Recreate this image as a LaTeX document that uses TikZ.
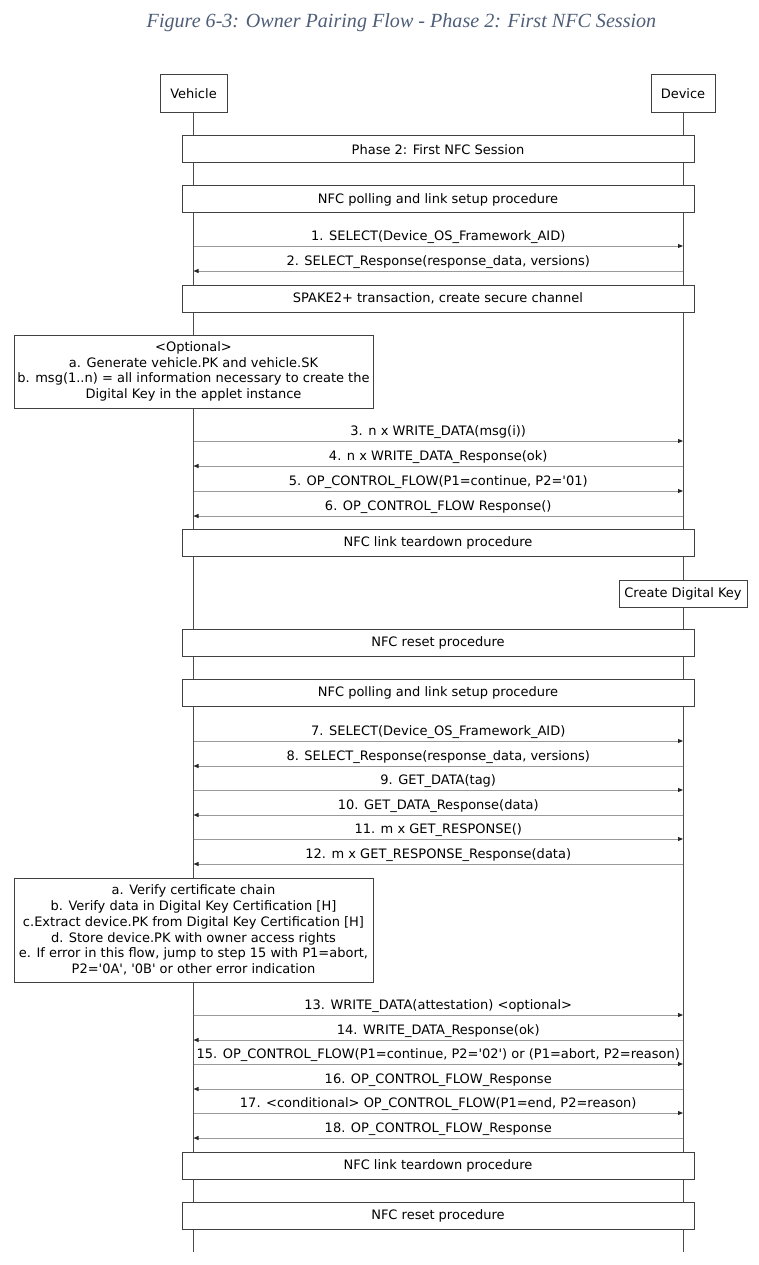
\documentclass[tikz,border=0pt]{standalone}
\usepackage{fontspec}
\setmainfont{DejaVu Sans}[Ligatures=TeXOff]
\newfontfamily\titlefont{Liberation Serif}
\usetikzlibrary{arrows.meta}
\definecolor{titleblue}{HTML}{4F5E78}
\tikzset{
  actor/.style={draw=black!75, line width=1pt, fill=white, inner sep=0pt,
        minimum height=38pt, font=\fontsize{13}{15.5}\selectfont},
  band/.style={draw=black!75, line width=1pt, fill=white, inner sep=0pt,
        minimum width=512pt, minimum height=27pt, font=\fontsize{13}{15.5}\selectfont},
  note/.style={draw=black!75, line width=1pt, fill=white, inner sep=0pt,
        align=center, font=\fontsize{13}{15.8}\selectfont},
  life/.style={draw=black!70, line width=1pt},
  msg/.style={-{Triangle[length=5pt, width=4pt, color=black!85]}, line width=0.9pt, draw=black!40},
  mlbl/.style={midway, above, inner sep=1.5pt, font=\fontsize{13}{15.5}\selectfont},
}

\begin{document}
\begin{tikzpicture}[x=1pt, y=-1pt]
\useasboundingbox (0,0) rectangle (758,1265);

% --- titulo ---
\node[font=\titlefont\itshape\fontsize{20.1}{24}\selectfont, text=titleblue] (title) at (401.5,23)
  {Figure 6-3: Owner Pairing Flow - Phase 2: First NFC Session};

% --- lifelines + cabeceras ---
\node[actor, minimum width=67pt] (veh) at (193.5,94) {Vehicle};
\node[actor, minimum width=64pt] (dev) at (683,94) {Device};
\coordinate (vend) at (veh |- 0,1252);
\coordinate (dend) at (dev |- 0,1252);
\draw[life] (veh.south) -- (vend);
\draw[life] (dev.south) -- (dend);

% --- bloques ---
\node[band] (phase)  at (438,149.5)  {Phase 2: First NFC Session};
\node[band] (poll1)  at (438,199.5)  {NFC polling and link setup procedure};
\node[band] (spake)  at (438,298.5)  {SPAKE2+ transaction, create secure channel};
\node[band] (tear1)  at (438,543)    {NFC link teardown procedure};
\node[band] (reset1) at (438,643)    {NFC reset procedure};
\node[band] (poll2)  at (438,693)    {NFC polling and link setup procedure};
\node[band] (tear2)  at (438,1165.5) {NFC link teardown procedure};
\node[band] (reset2) at (438,1215.5) {NFC reset procedure};

\node[note, minimum width=359pt, minimum height=73pt] (opt) at (193.5,371.5)
  {<Optional>\\
   a. Generate vehicle.PK and vehicle.SK\\
   b. msg(1..n) = all information necessary to create the\\
   Digital Key in the applet instance};
\node[note, minimum width=128pt, minimum height=27pt] (create) at (683,593.5) {Create Digital Key};
\node[note, minimum width=359pt, minimum height=104pt] (verify) at (193.5,930)
  {a. Verify certificate chain\\
   b. Verify data in Digital Key Certification [H]\\
   c.Extract device.PK from Digital Key Certification [H]\\
   d. Store device.PK with owner access rights\\
   e. If error in this flow, jump to step 15 with P1=abort,\\
   P2='0A', '0B' or other error indication};

% --- mensajes ---
\foreach \n/\y/\txt in {
  1/246/{1. SELECT(Device\_OS\_Framework\_AID)},
  2/271/{2. SELECT\_Response(response\_data, versions)},
  3/441/{3. n x WRITE\_DATA(msg(i))},
  4/466/{4. n x WRITE\_DATA\_Response(ok)},
  5/491/{5. OP\_CONTROL\_FLOW(P1=continue, P2='01)},
  6/516/{6. OP\_CONTROL\_FLOW Response()},
  7/741/{7. SELECT(Device\_OS\_Framework\_AID)},
  8/766/{8. SELECT\_Response(response\_data, versions)},
  9/790/{9. GET\_DATA(tag)},
  10/815/{10. GET\_DATA\_Response(data)},
  11/839/{11. m x GET\_RESPONSE()},
  12/864/{12. m x GET\_RESPONSE\_Response(data)},
  13/1015/{13. WRITE\_DATA(attestation) <optional>},
  14/1040/{14. WRITE\_DATA\_Response(ok)},
  15/1064/{15. OP\_CONTROL\_FLOW(P1=continue, P2='02') or (P1=abort, P2=reason)},
  16/1089/{16. OP\_CONTROL\_FLOW\_Response},
  17/1113/{17. <conditional> OP\_CONTROL\_FLOW(P1=end, P2=reason)},
  18/1138/{18. OP\_CONTROL\_FLOW\_Response}} {
  \coordinate (v\n) at (veh |- 0,\y);
  \coordinate (d\n) at (dev |- 0,\y);
  \ifodd\n
    \draw[msg] (v\n) -- (d\n) node[mlbl]{\txt};
  \else
    \draw[msg] (d\n) -- (v\n) node[mlbl]{\txt};
  \fi
}
\end{tikzpicture}
\end{document}
